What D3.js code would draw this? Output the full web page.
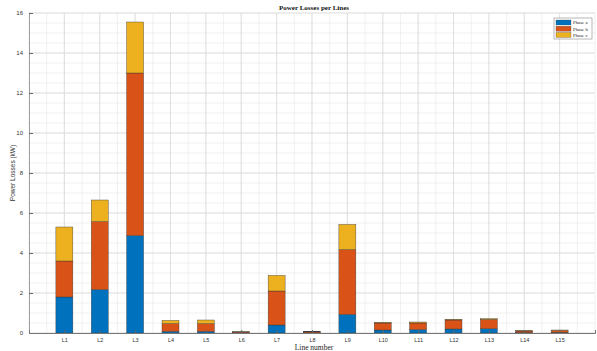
<!DOCTYPE html>
<html>
<head>
<meta charset="utf-8">
<script src="https://cdn.jsdelivr.net/npm/d3@7"></script>
<style>
  html, body { margin: 0; padding: 0; background: #fff; }
  svg { display: block; }
</style>
</head>
<body>
<svg id="chart" width="597" height="351"></svg>
<script>
// Power losses per line, split by phase (kW)
const lines = ["L1","L2","L3","L4","L5","L6","L7","L8","L9","L10","L11","L12","L13","L14","L15"];
const phaseA = [1.80, 2.17, 4.87, 0.08, 0.08, 0.01, 0.40, 0.01, 0.93, 0.15, 0.17, 0.20, 0.21, 0.02, 0.03];
const phaseB = [1.80, 3.40, 8.13, 0.39, 0.39, 0.04, 1.70, 0.05, 3.24, 0.35, 0.33, 0.45, 0.47, 0.08, 0.10];
const phaseC = [1.70, 1.08, 2.55, 0.16, 0.18, 0.01, 0.78, 0.01, 1.26, 0.03, 0.05, 0.03, 0.04, 0.02, 0.02];
const seriesNames = ["Phase a", "Phase b", "Phase c"];
const yTicks = [0, 2, 4, 6, 8, 10, 12, 14, 16];

const colors = ["#0072BD", "#D95319", "#EDB120"];

const svg = d3.select("#chart");
const plotL = 29, plotR = 595, plotT = 13, plotB = 333;

// numeric x scale: categories sit at 1..15 on a 0..16 axis
const x = d3.scaleLinear().domain([0, 16]).range([plotL, plotR]);
const y = d3.scaleLinear().domain([0, 16]).range([plotB, plotT]);

const rows = lines.map((name, i) => ({ name, idx: i + 1, a: phaseA[i], b: phaseB[i], c: phaseC[i] }));
const stacked = d3.stack().keys(["a", "b", "c"])(rows);

// minor grid
const g = svg.append("g");
g.selectAll("line.vminor").data(d3.range(0, 16.01, 0.5)).join("line")
  .attr("x1", d => x(d)).attr("x2", d => x(d)).attr("y1", plotT).attr("y2", plotB)
  .attr("stroke", "#e8e8e8").attr("stroke-width", 0.6);
g.selectAll("line.hminor").data(d3.range(0, 16.01, 0.5)).join("line")
  .attr("x1", plotL).attr("x2", plotR).attr("y1", d => y(d)).attr("y2", d => y(d))
  .attr("stroke", "#e8e8e8").attr("stroke-width", 0.6);
// major grid
g.selectAll("line.vmajor").data(d3.range(1, 16)).join("line")
  .attr("x1", d => x(d)).attr("x2", d => x(d)).attr("y1", plotT).attr("y2", plotB)
  .attr("stroke", "#d8d8d8").attr("stroke-width", 0.7);
g.selectAll("line.hmajor").data(yTicks).join("line")
  .attr("x1", plotL).attr("x2", plotR).attr("y1", d => y(d)).attr("y2", d => y(d))
  .attr("stroke", "#d8d8d8").attr("stroke-width", 0.7);

// bars
const barW = x(0.48) - x(0);
svg.append("g").selectAll("g").data(stacked).join("g")
  .attr("fill", (d, i) => colors[i])
  .selectAll("rect").data(d => d).join("rect")
  .attr("x", d => x(d.data.idx) - barW / 2)
  .attr("width", barW)
  .attr("y", d => y(d[1]))
  .attr("height", d => Math.max(0, y(d[0]) - y(d[1])))
  .attr("stroke", "#3a3a3a").attr("stroke-width", 0.4);

// axes
const yAxis = d3.axisLeft(y).tickValues(yTicks).tickSize(-4).tickPadding(6);
const ya = svg.append("g").attr("transform", `translate(${plotL},0)`).call(yAxis);
ya.select(".domain").attr("stroke", "#888").attr("stroke-width", 0.8);
ya.selectAll(".tick line").attr("stroke", "#666");
ya.selectAll("text").attr("font-family", "Liberation Sans, Arial, sans-serif").attr("font-size", 6).attr("fill", "#333");

const xAxis = d3.axisBottom(x).tickValues(d3.range(1, 16)).tickFormat(d => lines[d - 1]).tickSize(-3).tickPadding(5);
const xa = svg.append("g").attr("transform", `translate(0,${plotB})`).call(xAxis);
xa.select(".domain").attr("stroke", "#777").attr("stroke-width", 1);
xa.selectAll(".tick line").attr("stroke", "#666");
xa.selectAll("text").attr("font-family", "Liberation Sans, Arial, sans-serif").attr("font-size", 5.5).attr("fill", "#333");

// title and axis labels
svg.append("text").attr("x", (plotL + plotR) / 2 + 2).attr("y", 10)
  .attr("text-anchor", "middle").attr("font-family", "Liberation Serif, Times New Roman, serif")
  .attr("font-weight", "bold").attr("font-size", 7).attr("fill", "#111").text("Power Losses per Lines");
svg.append("text").attr("x", (plotL + plotR) / 2 + 2).attr("y", 350)
  .attr("text-anchor", "middle").attr("font-family", "Liberation Serif, Times New Roman, serif")
  .attr("font-size", 7.5).attr("fill", "#222").text("Line number");
svg.append("text").attr("transform", `translate(15,${(plotT + plotB) / 2}) rotate(-90)`)
  .attr("text-anchor", "middle").attr("font-family", "Liberation Sans, Arial, sans-serif")
  .attr("font-size", 6.5).attr("fill", "#333").text("Power Losses (kW)");

// legend
const lg = svg.append("g").attr("transform", "translate(554,18)");
lg.append("rect").attr("width", 38).attr("height", 21).attr("fill", "#fff")
  .attr("stroke", "#888").attr("stroke-width", 0.6);
seriesNames.forEach((s, i) => {
  lg.append("rect").attr("x", 2).attr("y", 2 + i * 6.2).attr("width", 15).attr("height", 5)
    .attr("fill", colors[i]).attr("stroke", "#444").attr("stroke-width", 0.3);
  lg.append("text").attr("x", 19).attr("y", 6.3 + i * 6.2)
    .attr("font-family", "Liberation Serif, Times New Roman, serif").attr("font-size", 4.8)
    .attr("fill", "#222").text(s);
});
</script>
</body>
</html>
